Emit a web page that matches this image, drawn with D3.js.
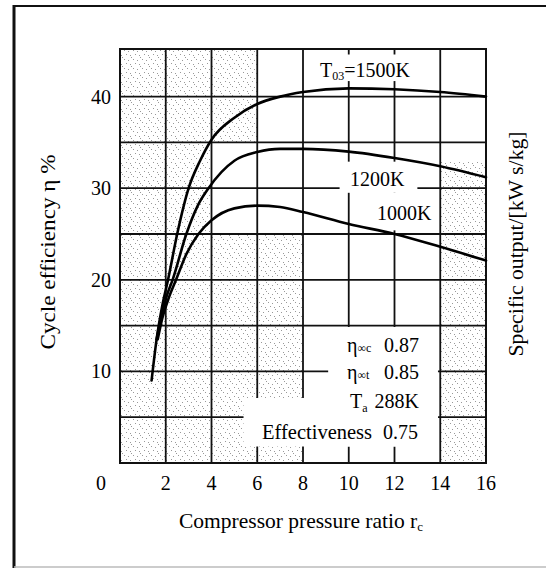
<!DOCTYPE html>
<html>
<head>
<meta charset="utf-8">
<script src="https://cdn.jsdelivr.net/npm/d3@7.9.0/dist/d3.min.js"></script>
<style>
  html, body { margin: 0; padding: 0; background: #fff; }
  svg { display: block; font-family: "Liberation Serif", "DejaVu Serif", serif; }
</style>
</head>
<body>
<svg id="chart" width="546" height="569"></svg>
<script>
// compressor pressure ratio / cycle efficiency (%)
const rc1500 = [1.38, 1.6, 1.85, 2.1, 2.5, 3.0, 3.5, 4, 5, 6, 7, 8, 10, 12, 14, 16];
const eta1500 = [9.0, 13.5, 17.2, 20.0, 25.0, 30.0, 33.0, 35.3, 37.7, 39.2, 40.0, 40.5, 40.9, 40.8, 40.5, 40.0];

const rc1200 = [1.6, 1.85, 2.05, 2.3, 2.9, 3.4, 3.87, 5, 6, 7, 8, 10, 12, 14, 16];
const eta1200 = [13.5, 16.5, 18.3, 20.0, 25.0, 28.1, 30.0, 33.0, 33.95, 34.3, 34.3, 34.0, 33.3, 32.4, 31.2];

const rc1000 = [1.65, 1.85, 2.1, 2.45, 2.9, 3.43, 4, 5, 6, 7, 8, 10, 12, 14, 16];
const eta1000 = [13.5, 15.8, 17.8, 20.0, 22.8, 25.0, 26.5, 27.8, 28.1, 27.95, 27.4, 26.1, 25.0, 23.6, 22.1];

const xTicks = [2, 4, 6, 8, 10, 12, 14, 16];
const yTicks = [10, 20, 30, 40];
const xGrid = [2, 4, 6, 8, 10, 12, 14];
const yGrid = [5, 10, 15, 20, 25, 30, 35, 40];

const params = [
  { sym: "η", sub: "∞c", value: "0.87" },
  { sym: "η", sub: "∞t", value: "0.85" },
  { sym: "T", sub: "a", value: "288K" },
];

const svg = d3.select("#chart");
const x = d3.scaleLinear().domain([0, 16]).range([120, 486]);
const y = d3.scaleLinear().domain([0, 45.2]).range([463, 49]);

// halftone paper texture
const defs = svg.append("defs");
const pat = defs.append("pattern")
  .attr("id", "stipple")
  .attr("patternUnits", "userSpaceOnUse")
  .attr("width", 9).attr("height", 9);
[[0, 0], [4, 1], [7, 5], [2, 6], [5, 3]].forEach(([px, py]) => {
  pat.append("rect").attr("x", px).attr("y", py)
    .attr("width", 1).attr("height", 1).attr("fill", "#999");
});

// outer frame
svg.append("line").attr("x1", 14).attr("x2", 546).attr("y1", 6).attr("y2", 6)
  .attr("stroke", "#111").attr("stroke-width", 2);
svg.append("line").attr("x1", 14).attr("x2", 14).attr("y1", 5).attr("y2", 568)
  .attr("stroke", "#111").attr("stroke-width", 3);
svg.append("line").attr("x1", 14).attr("x2", 546).attr("y1", 567).attr("y2", 567)
  .attr("stroke", "#bbb").attr("stroke-width", 1.5);

// shaded zones [x0, x1, y0, y1]
const shadeZones = [[0, 4, 0, 45.2], [4, 8, 0, 25], [4, 6, 35, 45.2], [14, 16, 0, 33]];
svg.append("g").selectAll("rect")
  .data(shadeZones)
  .join("rect")
  .attr("x", (d) => x(d[0]))
  .attr("width", (d) => x(d[1]) - x(d[0]))
  .attr("y", (d) => y(d[3]))
  .attr("height", (d) => y(d[2]) - y(d[3]))
  .attr("fill", "url(#stipple)");

// grid
const grid = svg.append("g").attr("stroke", "#111").attr("stroke-width", 1.8);
grid.selectAll(".v").data(xGrid).join("line")
  .attr("x1", (d) => x(d)).attr("x2", (d) => x(d))
  .attr("y1", y(45.2)).attr("y2", y(0));
grid.selectAll(".h").data(yGrid).join("line")
  .attr("x1", x(0)).attr("x2", x(16))
  .attr("y1", (d) => y(d)).attr("y2", (d) => y(d));

// white patches behind the labels
const clearZones = [
  [8.6, 13.8, 41.7, 44.6],
  [9.6, 13.0, 29.5, 32.9],
  [11.1, 13.6, 25.4, 29.5],
  [9.1, 13.9, 1.8, 14.85],
  [5.4, 13.9, 1.8, 7.1],
];
svg.append("g").selectAll("rect")
  .data(clearZones)
  .join("rect")
  .attr("x", (d) => x(d[0]))
  .attr("width", (d) => x(d[1]) - x(d[0]))
  .attr("y", (d) => y(d[3]))
  .attr("height", (d) => y(d[2]) - y(d[3]))
  .attr("fill", "#fff");

// plot border
svg.append("rect")
  .attr("x", x(0)).attr("y", y(45.2))
  .attr("width", x(16) - x(0)).attr("height", y(0) - y(45.2))
  .attr("fill", "none").attr("stroke", "#111").attr("stroke-width", 2);

// curves
const line = d3.line()
  .x((d) => x(d[0]))
  .y((d) => y(d[1]))
  .curve(d3.curveMonotoneX);

[[rc1500, eta1500], [rc1200, eta1200], [rc1000, eta1000]].forEach(([xs, ys]) => {
  svg.append("path")
    .attr("d", line(xs.map((v, i) => [v, ys[i]])))
    .attr("fill", "none")
    .attr("stroke", "#000")
    .attr("stroke-width", 2.6)
    .attr("stroke-linecap", "round");
});

// tick labels
svg.append("g").selectAll("text").data(yTicks).join("text")
  .attr("x", x(0) - 9)
  .attr("y", (d) => y(d) + 7)
  .attr("text-anchor", "end")
  .attr("font-size", 20)
  .text((d) => d);

svg.append("g").selectAll("text").data(xTicks).join("text")
  .attr("x", (d) => x(d))
  .attr("y", 490)
  .attr("text-anchor", "middle")
  .attr("font-size", 20)
  .text((d) => d);

svg.append("text")
  .attr("x", x(0) - 19).attr("y", 490)
  .attr("text-anchor", "middle").attr("font-size", 20)
  .text("0");

// axis titles
const xt = svg.append("text")
  .attr("x", 179).attr("y", 528)
  .attr("font-size", 21.5);
xt.append("tspan").text("Compressor pressure ratio r");
xt.append("tspan").attr("font-size", 13).attr("dy", 3).text("c");

svg.append("text")
  .attr("transform", "translate(55,252) rotate(-90)")
  .attr("text-anchor", "middle").attr("font-size", 21)
  .attr("textLength", 195).attr("lengthAdjust", "spacingAndGlyphs")
  .text("Cycle efficiency η %");

svg.append("text")
  .attr("transform", "translate(523,244) rotate(-90)")
  .attr("text-anchor", "middle").attr("font-size", 21)
  .attr("textLength", 225).attr("lengthAdjust", "spacingAndGlyphs")
  .text("Specific output/[kW s/kg]");

// curve labels
const t1500 = svg.append("text").attr("x", 320).attr("y", 77).attr("font-size", 20);
t1500.append("tspan").text("T");
t1500.append("tspan").attr("font-size", 12).attr("dy", 3).text("03");
t1500.append("tspan").attr("dy", -3).text("=1500K");

svg.append("text").attr("x", 350).attr("y", 186).attr("font-size", 20).text("1200K");
svg.append("text").attr("x", 377).attr("y", 220).attr("font-size", 20).text("1000K");

// parameter block
const rowY = [351.7, 379.3, 408.3];
params.forEach((p, i) => {
  const t = svg.append("text").attr("x", i === 2 ? 350 : 347).attr("y", rowY[i]).attr("font-size", 20);
  t.append("tspan").text(p.sym);
  t.append("tspan").attr("font-size", 12).attr("dy", i === 2 ? 4 : 0).text(p.sub);
  svg.append("text").attr("x", 419).attr("y", rowY[i])
    .attr("text-anchor", "end").attr("font-size", 20).text(p.value);
});
svg.append("text").attr("x", 262).attr("y", 439.3).attr("font-size", 20.5).text("Effectiveness");
svg.append("text").attr("x", 418).attr("y", 439.3)
  .attr("text-anchor", "end").attr("font-size", 20).text("0.75");
</script>
</body>
</html>
